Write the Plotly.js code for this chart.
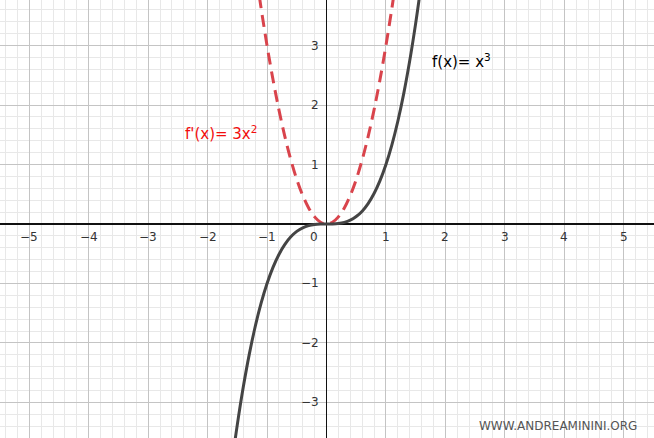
<!DOCTYPE html>
<html>
<head>
<meta charset="utf-8">
<script src="https://cdn.plot.ly/plotly-3.0.1.min.js"></script>
<style>
  html, body { margin: 0; padding: 0; background: #fff; }
  #chart { width: 654px; height: 438px; }
</style>
</head>
<body>
<div id="chart"></div>
<script>
// f(x) = x^3
const cube_x = [-1.56, -1.5, -1.4, -1.3, -1.2, -1.1, -1.0, -0.9, -0.8, -0.7, -0.6, -0.5, -0.4, -0.3, -0.2, -0.1, 0,
                0.1, 0.2, 0.3, 0.4, 0.5, 0.6, 0.7, 0.8, 0.9, 1.0, 1.1, 1.2, 1.3, 1.4, 1.5, 1.56];
const cube_y = [-3.796, -3.375, -2.744, -2.197, -1.728, -1.331, -1.0, -0.729, -0.512, -0.343, -0.216, -0.125, -0.064, -0.027, -0.008, -0.001, 0,
                0.001, 0.008, 0.027, 0.064, 0.125, 0.216, 0.343, 0.512, 0.729, 1.0, 1.331, 1.728, 2.197, 2.744, 3.375, 3.796];

// f'(x) = 3x^2
const deriv_x = [-1.13, -1.1, -1.0, -0.9, -0.8, -0.7, -0.6, -0.5, -0.4, -0.3, -0.2, -0.1, 0,
                 0.1, 0.2, 0.3, 0.4, 0.5, 0.6, 0.7, 0.8, 0.9, 1.0, 1.1, 1.13];
const deriv_y = [3.831, 3.63, 3.0, 2.43, 1.92, 1.47, 1.08, 0.75, 0.48, 0.27, 0.12, 0.03, 0,
                 0.03, 0.12, 0.27, 0.48, 0.75, 1.08, 1.47, 1.92, 2.43, 3.0, 3.63, 3.831];

const x_ticks = [-5, -4, -3, -2, -1, 1, 2, 3, 4, 5];
const y_ticks = [-3, -2, -1, 1, 2, 3];

const label_font = {family: 'DejaVu Sans, sans-serif', size: 12, color: '#333'};
const fmt = v => (v < 0 ? '\u2212' + Math.abs(v) : String(v));

const annotations = [];
x_ticks.forEach(t => annotations.push({
    x: t, y: 0, xref: 'x', yref: 'y', text: fmt(t), showarrow: false,
    xanchor: 'center', yanchor: 'top', yshift: -4, font: label_font
}));
y_ticks.forEach(t => annotations.push({
    x: 0, y: t, xref: 'x', yref: 'y', text: fmt(t), showarrow: false,
    xanchor: 'right', yanchor: 'middle', xshift: -5, font: label_font
}));
annotations.push({
    x: 0, y: 0, xref: 'x', yref: 'y', text: '0', showarrow: false,
    xanchor: 'right', yanchor: 'top', xshift: -6, yshift: -4, font: label_font
});
annotations.push({
    x: 1.74, y: 2.74, xref: 'x', yref: 'y', text: 'f(x)= x<sup>3</sup>', showarrow: false,
    xanchor: 'left', yanchor: 'middle', font: {family: 'DejaVu Sans, sans-serif', size: 15, color: '#000'}
});
annotations.push({
    x: -2.42, y: 1.53, xref: 'x', yref: 'y', text: "f'(x)= 3x<sup>2</sup>", showarrow: false,
    xanchor: 'left', yanchor: 'middle', font: {family: 'DejaVu Sans, sans-serif', size: 15, color: '#f20d0d'}
});
annotations.push({
    x: 639 / 654, y: 1 - 426 / 438, xref: 'paper', yref: 'paper', text: 'WWW.ANDREAMININI.ORG',
    showarrow: false, xanchor: 'right', yanchor: 'middle',
    font: {family: 'DejaVu Sans, sans-serif', size: 12, color: '#555'}
});

const axis_base = {
    dtick: 1, tick0: 0, showgrid: true, gridcolor: '#c4c4c4', gridwidth: 1,
    minor: {dtick: 0.2, tick0: 0, showgrid: true, gridcolor: '#e8e8e8', gridwidth: 1},
    zeroline: true, zerolinecolor: '#111', zerolinewidth: 1.5,
    showticklabels: false, ticks: '', showline: false, fixedrange: true
};

const data = [
    {x: deriv_x, y: deriv_y, mode: 'lines', line: {color: '#d9444c', width: 3, dash: '12px,7px', shape: 'spline'}, hoverinfo: 'skip'},
    {x: cube_x, y: cube_y, mode: 'lines', line: {color: '#444', width: 3, shape: 'spline'}, hoverinfo: 'skip'}
];

const layout = {
    width: 654, height: 438,
    margin: {l: 0, r: 0, t: 0, b: 0},
    paper_bgcolor: '#fff', plot_bgcolor: '#fff',
    showlegend: false,
    xaxis: Object.assign({}, axis_base, {range: [-5.492, 5.509]}),
    yaxis: Object.assign({}, axis_base, {range: [-3.600, 3.768]}),
    annotations: annotations
};

Plotly.newPlot('chart', data, layout, {staticPlot: true});
</script>
</body>
</html>
